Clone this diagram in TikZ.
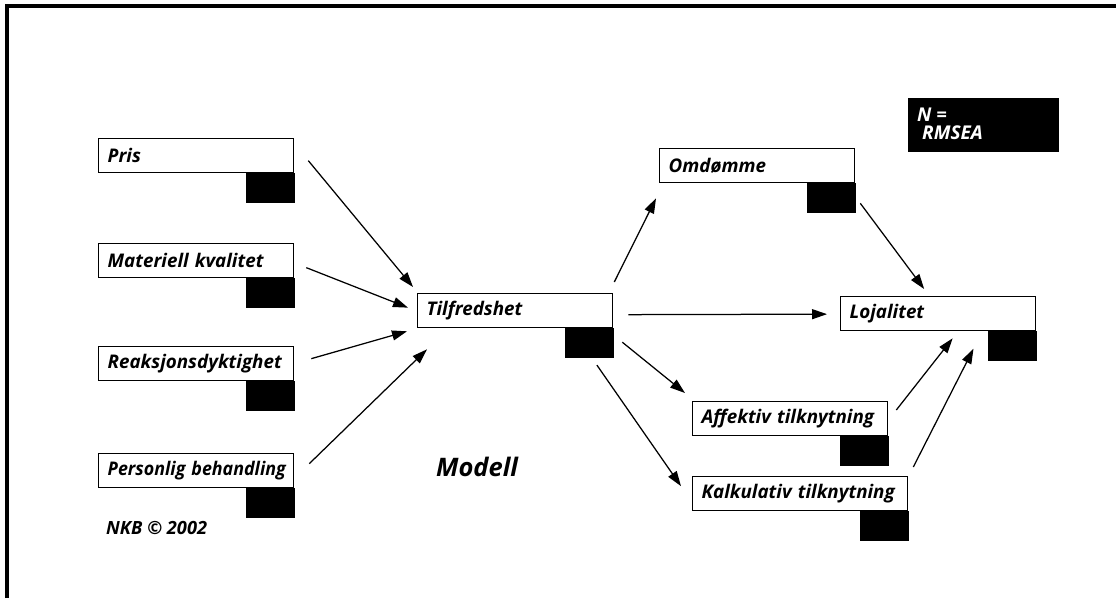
\documentclass[tikz,border=0pt]{standalone}
\usepackage{fontspec}
\setmainfont{Open Sans}
\usetikzlibrary{arrows.meta,calc}
\newcommand{\boxlabel}[1]{\makebox[0pt][l]{\raisebox{-2pt}{#1}}}
\tikzset{
  varbox/.style={draw, line width=1.3pt, fill=white, text width=177pt, minimum height=34pt,
    align=left, inner xsep=9pt, inner ysep=0pt, anchor=north west,
    font=\fontsize{18.8}{21}\selectfont\bfseries\itshape},
  errbox/.style={fill=black, draw=black, line width=0.8pt, minimum width=48pt, minimum height=29pt,
    inner sep=0pt, anchor=north east},
  arr/.style={line width=1.25pt, -{Triangle[length=15pt,width=10pt]}},
  note/.style={font=\bfseries\itshape, inner sep=0pt}
}
\begin{document}
\begin{tikzpicture}[x=1pt,y=-1pt]
\useasboundingbox (0,0) rectangle (1116,598);
% outer frame (top and left edges)
\draw[line width=4pt] (7,598) -- (7,6) -- (1116,6);

% exogenous variables
\node[varbox] (pris) at (98,138) {\boxlabel{Pris}};
\node[varbox] (mat)  at (98,243) {\boxlabel{Materiell kvalitet}};
\node[varbox] (reak) at (98,346) {\boxlabel{Reaksjonsdyktighet}};
\node[varbox] (pers) at (98,453) {\boxlabel{\scalebox{0.95}[1]{Personlig behandling}}};
% central and outcome variables
\node[varbox] (tilf) at (417,293) {\boxlabel{Tilfredshet}};
\node[varbox] (omd)  at (659,148) {\boxlabel{Omdømme}};
\node[varbox] (loj)  at (840,296) {\boxlabel{Lojalitet}};
\node[varbox] (aff)  at (692,401) {\boxlabel{Affektiv tilknytning}};
\node[varbox, text width=197pt] (kalk) at (692,476) {\boxlabel{Kalkulativ tilknytning}};

% error terms
\foreach \v in {pris,mat,reak,pers,tilf,omd,loj,aff,kalk}
  \node[errbox] (\v E) at (\v.south east) {};

% fit statistics
\node[fill=black, minimum width=151pt, minimum height=54pt, anchor=north west] (fit) at (908,98) {};
\node[note, anchor=west, text=white, font=\fontsize{19}{21}\selectfont\bfseries\itshape, align=left]
  (fitTxt) at ($(fit.west)+(9,-1)$) {N =\\[-3pt]\hspace{5pt}RMSEA};

% labels
\node[note, font=\fontsize{25.5}{28}\selectfont\bfseries\itshape] (modell) at (477,467) {Modell};
\node[note, anchor=west, font=\fontsize{18.2}{20}\selectfont\bfseries\itshape] (nkb) at (106,528) {NKB © 2002};

% paths
\draw[arr] ($(pris.east)+(14,5)$) -- ($(tilf.north west)+(-4,-6)$);
\draw[arr] ($(mat.east)+(12,7)$) -- ($(tilf.west)+(-9,-3)$);
\draw[arr] ($(reak.east)+(17,-5)$) -- ($(tilf.south west)+(-10,3)$);
\draw[arr] ($(pers.east)+(15,-7)$) -- ($(tilf.south west)+(10,21)$);
\draw[arr] ($(tilf.north east)+(1,-11)$) -- ($(omd.south west)+(-3,15)$);
\draw[arr] ($(omdE.north east)+(5,20)$) -- ($(loj.north)+(-14,-7)$);
\draw[arr] ($(tilf.east)+(15,4)$) -- ($(loj.west)+(-13,0.5)$);
\draw[arr] ($(tilfE.east)+(9,-1)$) -- ($(aff.north west)+(-7,-8)$);
\draw[arr] ($(tilfE.south)+(8,7)$) -- ($(kalk.west)+(-11,-7.5)$);
\draw[arr] ($(aff.north east)+(8,9)$) -- ($(loj.south)+(14.5,7)$);
\draw[arr] ($(kalk.north east)+(5,-9)$) -- ($(lojE.west)+(-14,2.5)$);
\end{tikzpicture}
\end{document}
